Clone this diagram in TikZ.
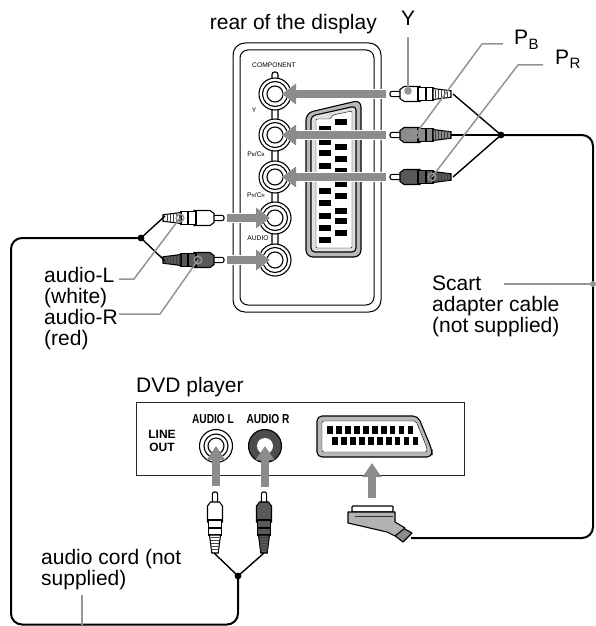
\documentclass[tikz,border=0pt]{standalone}
\usepackage{fontspec}
\setmainfont{Liberation Sans}
\usepackage{tikz}
\usetikzlibrary{arrows.meta, calc, positioning}
\definecolor{feedgray}{gray}{0.55}
\definecolor{leadgray}{gray}{0.58}
\definecolor{scartgray}{gray}{0.72}

\newcommand{\rcaplug}[4]{%
\begin{scope}[shift={(#1,#2)},rotate=#3, line width=1.1pt]
  \draw[fill=white,rounded corners=2pt] (0,-2.6) rectangle (11,2.6);
  \draw[fill=#4] (10,-4.5) -- (14,-7.5) -- (30,-7.5) -- (30,7.5) -- (14,7.5) -- (10,4.5) -- cycle;
  \draw[fill=#4] (28,-6.5) -- (43,-6.5) -- (43,6.5) -- (28,6.5) -- cycle;
  \draw (36,-6.5)--(36,6.5);
  \draw[fill=#4] (43,-5.5) -- (61,-3.2) -- (61,3.2) -- (43,5.5) -- cycle;
  \foreach \t in {45,48,...,59} \draw[black!75, line width=.8pt] (\t,-4.2)--(\t,4.2);
\end{scope}}

\begin{document}
\begin{tikzpicture}[x=1pt, y=-1pt,
  txt/.style={font=\fontsize{21}{21}\selectfont, inner sep=0pt, align=left},
  tiny/.style={font=\fontsize{6.7}{8}\selectfont, inner sep=0pt},
  tag/.style={font=\bfseries\fontsize{13}{13}\selectfont, inner sep=0pt, xscale=.78, transform shape},
  linetag/.style={font=\bfseries\fontsize{12}{12.5}\selectfont, inner sep=0pt, align=center},
  sub/.style={inner sep=0pt, font=\fontsize{15}{15}\selectfont, anchor=base west},
  lead/.style={draw=leadgray, line width=1.5pt},
  cable/.style={line width=2pt, rounded corners=11pt},
  arm/.style={line width=1.4pt},
  ring/.style={line width=1.1pt},
  feed/.style={draw=feedgray, line width=7.5pt, -{Triangle[length=14pt,width=20pt]},
    preaction={draw=white, line width=9.5pt, -{Triangle[length=16pt,width=24pt]}}},
  feedup/.style={draw=feedgray, line width=8pt, -{Triangle[length=14pt,width=18pt]}}]
\useasboundingbox (0,0) rectangle (595,626);

% display panel
\draw[line width=1pt, rounded corners=12pt] (233,43) rectangle (381,312);
\draw[line width=1pt, rounded corners=8pt] (240,50) rectangle (374,305);
\draw[ring, rounded corners=2.5pt] (272,72) rectangle (278,262);
\foreach \n/\y in {Y/94,B/135,R/177,L/218,A/260}{
  \coordinate (jack\n) at (275,\y);
  \draw[ring, fill=white] (jack\n) circle (16);
  \draw[ring] (jack\n) circle (12.5);
  \draw[ring] (jack\n) circle (8);
}
\node[tiny] (compLbl) at (274,65) {COMPONENT};
\node[tiny] (yLbl) at (254,110) {Y};
\node[tiny] (pbLbl) at (256,154) {P{\fontsize{4.5}{5}\selectfont B}/C{\fontsize{4.5}{5}\selectfont B}};
\node[tiny] (prLbl) at (256,195) {P{\fontsize{4.5}{5}\selectfont R}/C{\fontsize{4.5}{5}\selectfont R}};
\node[tiny] (audLbl) at (258,238) {AUDIO};

% scart on the display
\draw[ring, fill=scartgray, rounded corners=7pt] (306,113) -- (361,100) -- (361,257) -- (306,257) -- cycle;
\draw[ring, fill=black!12, rounded corners=4pt] (311,116) -- (356,106) -- (356,252) -- (311,252) -- cycle;
\draw[fill=white, rounded corners=1pt] (316,119) -- (330,119) -- (333,115) -- (352,111) -- (352,248) -- (316,248) -- cycle;
\foreach \y in {129,142,153,166,191,203,216,228,240} \fill (319,\y-3) rectangle (331,\y+3);
\foreach \y in {122,147,159,171,184,196,211,221,233} \fill (335,\y-3) rectangle (347,\y+3);

% plugs
\rcaplug{390}{94}{0}{white}
\rcaplug{390}{135}{0}{black!45}
\rcaplug{390}{177}{0}{black!65}
\rcaplug{224}{218}{180}{white}
\rcaplug{224}{260}{180}{black!65}
\rcaplug{215}{492}{-90}{white}
\rcaplug{264}{492}{-90}{black!65}
\coordinate (tipY) at (386,94);
\coordinate (tipB) at (386,135);
\coordinate (tipR) at (386,177);
\coordinate (tipL) at (227,218);
\coordinate (tipA) at (227,260);

% arrows to the display
\foreach \n in {Y,B,R} \draw[feed] (tip\n) -- ([xshift=7pt]jack\n);
\foreach \n in {L,A} \draw[feed] (tip\n) -- ([xshift=-5pt]jack\n);

% scart cable
\coordinate (hubS) at (501,135);
\coordinate (scartEnd) at (411,538);
\draw[arm] (453,94) -- (hubS);
\draw[arm] (451,135) -- (hubS);
\draw[arm] (453,177) -- (hubS);
\fill (hubS) circle (3.4);
\draw[cable] (hubS) -- (593,135) -- (593,538) -- (scartEnd);

% audio cable
\coordinate (hubL) at (141,238);
\coordinate (hubD) at (238,576);
\draw[arm] (165,216) -- (hubL);
\draw[arm] (165,261) -- (hubL);
\fill (hubL) circle (3.4);
\draw[arm] (214,553) -- (hubD);
\draw[arm] (264,553) -- (hubD);
\fill (hubD) circle (3.4);
\draw[cable] (hubL) -- (11,238) -- (11,624.5) -- (238,624.5) -- (hubD);

% dvd player
\node[txt, anchor=base west] (dvdLbl) at (136,392) {DVD player};
\draw[line width=1pt, black!85] (136,402) rectangle (464,475);
\node[linetag] (lineLbl) at (162,441) {LINE\\OUT};
\node[tag] (audL) at (213,419) {AUDIO L};
\node[tag] (audR) at (268,419) {AUDIO R};
\coordinate (jackDL) at (216,446);
\coordinate (jackDR) at (265,446);
\draw[ring] (jackDL) circle (16.5) (jackDL) circle (12) (jackDL) circle (8);
\fill[black!70] (jackDR) circle (16.5);
\draw[ring] (jackDR) circle (16.5);
\fill[white] (jackDR) circle (8);
\draw[feedup] (216,486) -- (jackDL);
\draw[feedup] (265,487) -- (jackDR);
\draw[feedup] (372,498) -- (372,463);

% scart on the dvd player
\draw[ring, fill=scartgray, rounded corners=5pt] (317,416) -- (418,416) -- (432,450) -- (432,457) -- (317,457) -- cycle;
\draw[fill=white, rounded corners=2pt] (322,421) -- (416,421) -- (427,448) -- (427,452) -- (322,452) -- cycle;
\foreach \i in {0,...,9}{
  \fill (327+\i*8.95,426) rectangle +(5.8,8);
  \fill (332+\i*8.95,437) rectangle +(5.8,8);
}

% scart plug
\draw[ring, fill=white, rounded corners=1pt] (352,506) rectangle (393,512);
\draw[ring, fill=black!45, line join=round] (403,528) -- (412,533) -- (403,542) -- (394,535) -- cycle;
\draw[ring, fill=black!30, line join=round] (348,512) -- (395,512) -- (395,522) -- (405,528) -- (395,536) -- (387,532) -- (348,523) -- cycle;
\draw[black!80, line width=.9pt] (355,516) -- (393,516);

% labels
\node[txt, anchor=base east] (rearLbl) at (377,30) {rear of the display};
\node[txt, anchor=base] (lblY) at (408,26) {Y};
\node[txt, anchor=base west] (lblB) at (514,45) {P};
\node[sub, yshift=-4pt] (subB) at (lblB.base east) {B};
\node[txt, anchor=base west] (lblR) at (555,65) {P};
\node[sub, yshift=-4pt] (subR) at (lblR.base east) {R};
\node[txt, anchor=north west] (lblAL) at (44,267) {audio-L\\(white)};
\node[txt, anchor=north west] (lblAR) at (44,309) {audio-R\\(red)};
\node[txt, anchor=north west] (lblS) at (432,276) {Scart\\adapter cable\\(not supplied)};
\node[txt, anchor=north west] (lblC) at (41,549) {audio cord (not\\supplied)};

% leaders
\coordinate (dotY) at (408,91);
\coordinate (dotB) at (415,135);
\coordinate (dotR) at (432,177);
\coordinate (dotL) at (180,218);
\coordinate (dotA) at (198,260);
\coordinate (dotS) at (593,284);
\coordinate (dotC) at (82,624.5);
\draw[lead] (408,37) -- (dotY);
\draw[lead] (503,44) -- (482,44) -- (dotB);
\draw[lead] (543,65) -- (518,65) -- (dotR);
\draw[lead] (119,279) -- (134,279) -- (dotL);
\draw[lead] (119,314) -- (160,314) -- (dotA);
\draw[lead] (504,284) -- (dotS);
\draw[lead] (82,595) -- (dotC);
\fill[leadgray] (dotY) circle (3.8);
\foreach \n in {B,R,L,A} \draw[lead] (dot\n) circle (3.8);
\fill[leadgray] (dotS) circle (3);
\end{tikzpicture}
\end{document}
